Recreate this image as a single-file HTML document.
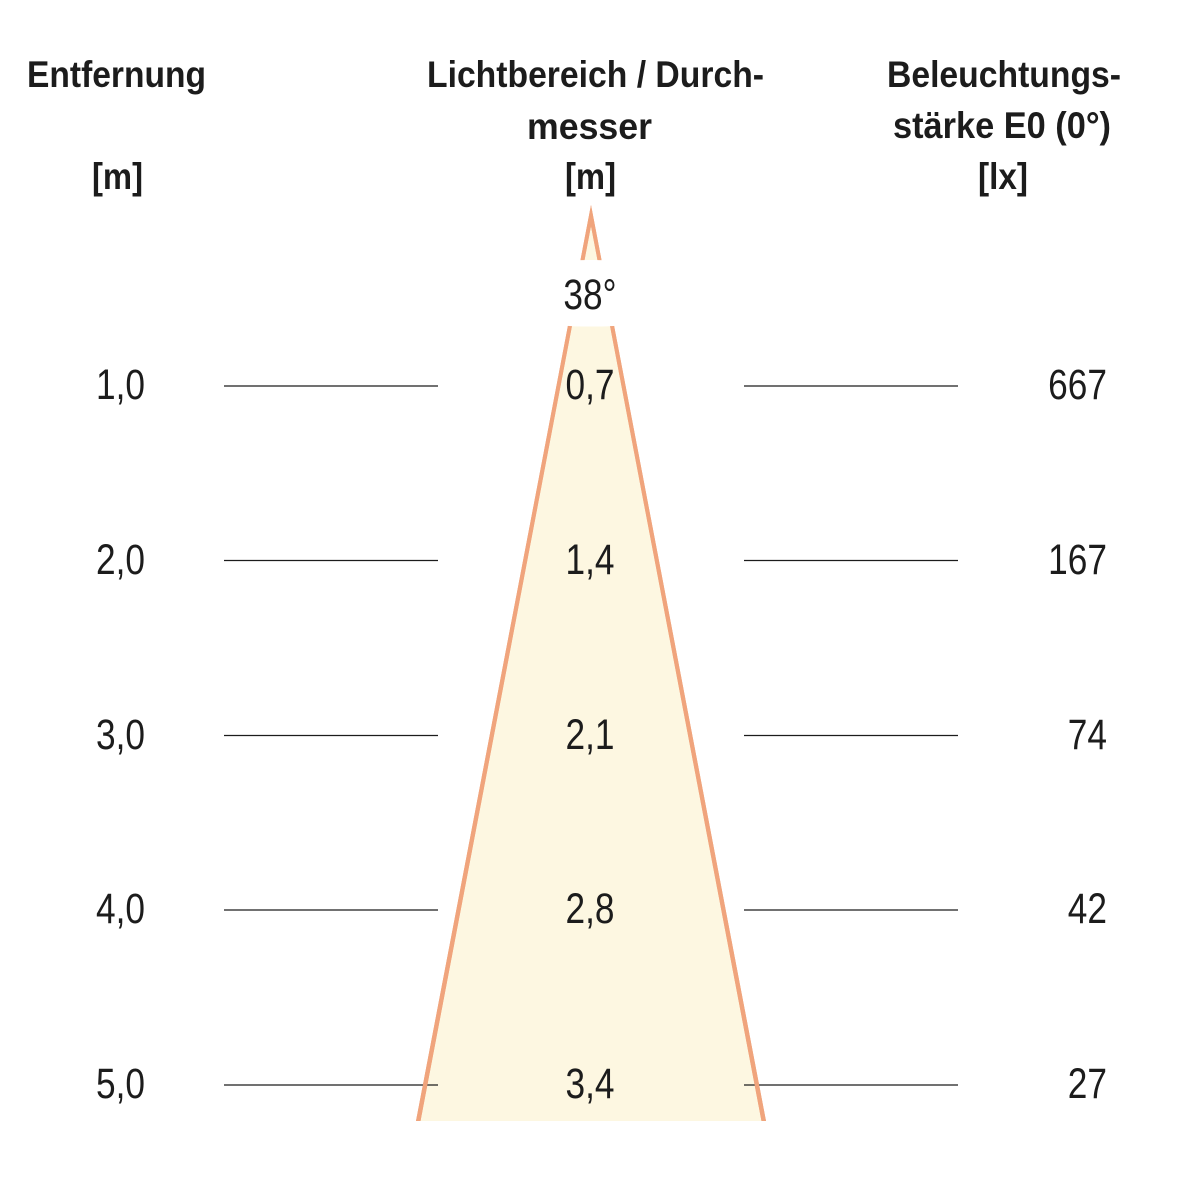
<!DOCTYPE html>
<html>
<head>
<meta charset="utf-8">
<style>
html,body{margin:0;padding:0;background:#fff;}
svg{display:block;}
.h{font-family:"Liberation Sans",Arial,sans-serif;font-weight:bold;font-size:37px;fill:#1c1c1c;}
.n{font-family:"Liberation Sans",Arial,sans-serif;font-size:43px;fill:#1c1c1c;}
</style>
</head>
<body>
<svg width="1182" height="1182" viewBox="0 0 1182 1182" xmlns="http://www.w3.org/2000/svg">
<rect width="1182" height="1182" fill="#fff"/>

<!-- cone -->
<polygon points="591,205 416,1121 766,1121" fill="#f0a47c"/>
<polygon points="591,226 420.5,1121 761.5,1121" fill="#fdf7e1"/>

<!-- gap around 38° -->
<path d="M525 263 Q591 257 657 263 L657 322 Q591 331 525 322 Z" fill="#fff"/>

<!-- horizontal lines -->
<g stroke="#1c1c1c" stroke-width="1.2">
<line x1="224" y1="386" x2="438" y2="386"/>
<line x1="744" y1="386" x2="958" y2="386"/>
<line x1="224" y1="560.5" x2="438" y2="560.5"/>
<line x1="744" y1="560.5" x2="958" y2="560.5"/>
<line x1="224" y1="735.5" x2="438" y2="735.5"/>
<line x1="744" y1="735.5" x2="958" y2="735.5"/>
<line x1="224" y1="910" x2="438" y2="910"/>
<line x1="744" y1="910" x2="958" y2="910"/>
<line x1="224" y1="1085" x2="438" y2="1085"/>
<line x1="744" y1="1085" x2="958" y2="1085"/>
</g>

<!-- redraw orange edges over black lines near bottom -->
<g fill="#f0a47c">
<polygon points="591,205 416,1121 420.5,1121 591,226"/>
<polygon points="591,205 766,1121 761.5,1121 591,226"/>
</g>
<path d="M525 263 Q591 257 657 263 L657 322 Q591 331 525 322 Z" fill="#fff"/>

<!-- headers -->
<text class="h" x="27" y="87" textLength="179" lengthAdjust="spacingAndGlyphs">Entfernung</text>
<text class="h" x="92" y="189" textLength="51" lengthAdjust="spacingAndGlyphs">[m]</text>

<text class="h" x="427" y="87" textLength="337" lengthAdjust="spacingAndGlyphs">Lichtbereich / Durch-</text>
<text class="h" x="527" y="139" textLength="125" lengthAdjust="spacingAndGlyphs">messer</text>
<text class="h" x="565" y="189" textLength="51" lengthAdjust="spacingAndGlyphs">[m]</text>

<text class="h" x="887" y="87" textLength="234" lengthAdjust="spacingAndGlyphs">Beleuchtungs-</text>
<text class="h" x="893" y="138" textLength="218" lengthAdjust="spacingAndGlyphs">stärke E0 (0°)</text>
<text class="h" x="978" y="189" textLength="50" lengthAdjust="spacingAndGlyphs">[lx]</text>

<!-- 38° -->
<text class="n" text-anchor="middle" transform="translate(590,309) scale(0.82,1)">38°</text>

<!-- left column -->
<text class="n" text-anchor="end" transform="translate(145,399) scale(0.82,1)">1,0</text>
<text class="n" text-anchor="end" transform="translate(145,574) scale(0.82,1)">2,0</text>
<text class="n" text-anchor="end" transform="translate(145,749) scale(0.82,1)">3,0</text>
<text class="n" text-anchor="end" transform="translate(145,923) scale(0.82,1)">4,0</text>
<text class="n" text-anchor="end" transform="translate(145,1098) scale(0.82,1)">5,0</text>

<!-- center column -->
<text class="n" text-anchor="middle" transform="translate(590,399) scale(0.82,1)">0,7</text>
<text class="n" text-anchor="middle" transform="translate(590,574) scale(0.82,1)">1,4</text>
<text class="n" text-anchor="middle" transform="translate(590,749) scale(0.82,1)">2,1</text>
<text class="n" text-anchor="middle" transform="translate(590,923) scale(0.82,1)">2,8</text>
<text class="n" text-anchor="middle" transform="translate(590,1098) scale(0.82,1)">3,4</text>

<!-- right column -->
<text class="n" text-anchor="end" transform="translate(1107,399) scale(0.82,1)">667</text>
<text class="n" text-anchor="end" transform="translate(1107,574) scale(0.82,1)">167</text>
<text class="n" text-anchor="end" transform="translate(1107,749) scale(0.82,1)">74</text>
<text class="n" text-anchor="end" transform="translate(1107,923) scale(0.82,1)">42</text>
<text class="n" text-anchor="end" transform="translate(1107,1098) scale(0.82,1)">27</text>
</svg>
</body>
</html>
